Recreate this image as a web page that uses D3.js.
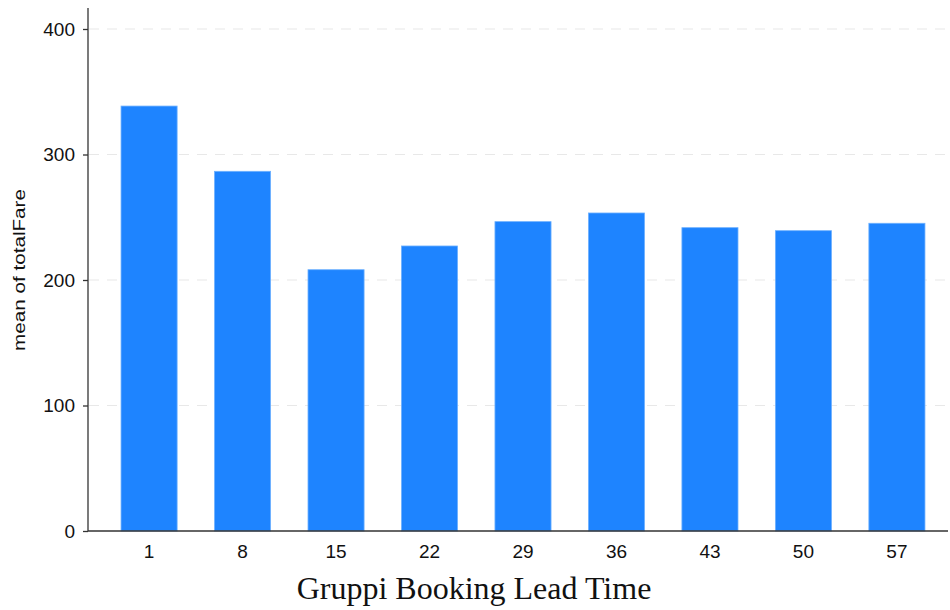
<!DOCTYPE html>
<html>
<head>
<meta charset="utf-8">
<script src="https://cdn.jsdelivr.net/npm/d3@7"></script>
<style>
  html, body { margin: 0; padding: 0; background: #fff; }
  svg { display: block; }
</style>
</head>
<body>
<svg id="chart" width="950" height="610"></svg>
<script>
const categories = ["1", "8", "15", "22", "29", "36", "43", "50", "57"];
const meanTotalFare = [338.6, 286.6, 208.2, 227.1, 246.5, 253.4, 241.7, 239.3, 245.2];
const yTicks = [0, 100, 200, 300, 400];
const xTitle = "Gruppi Booking Lead Time";
const yTitle = "mean of totalFare";

const svg = d3.select("#chart");
const plot = { left: 88, right: 948, top: 8, bottom: 531 };

const y = d3.scaleLinear().domain([0, 400]).range([531, 29]);
const x = d3.scaleBand().domain(categories).range([93, 953]).paddingInner(0.4).paddingOuter(0.3);

// gridlines
svg.append("g").selectAll("line")
  .data(yTicks.filter(d => d > 0))
  .join("line")
  .attr("x1", plot.left + 1).attr("x2", plot.right)
  .attr("y1", d => y(d)).attr("y2", d => y(d))
  .attr("stroke", "#e8e8e8").attr("stroke-width", 1.2)
  .attr("stroke-dasharray", "10,8");

// bars
svg.append("g").selectAll("rect")
  .data(categories.map((c, i) => ({ c, v: meanTotalFare[i] })))
  .join("rect")
  .attr("x", d => x(d.c))
  .attr("width", x.bandwidth())
  .attr("y", d => y(d.v))
  .attr("height", d => y(0) - y(d.v))
  .attr("fill", "#1e84ff")
  .attr("stroke", "#6eb1ff").attr("stroke-width", 0.8);

const sans = "Arial, 'Liberation Sans', sans-serif";

// y axis
const yAxis = svg.append("g")
  .attr("transform", `translate(${plot.left},0)`)
  .call(d3.axisLeft(y).tickValues(yTicks).tickSize(5).tickPadding(8).tickFormat(d3.format("d")));
yAxis.select(".domain").attr("d", `M0,${plot.top}V${plot.bottom}`).attr("stroke", "#333").attr("stroke-width", 1.3);
yAxis.selectAll(".tick line").attr("stroke", "#333").attr("stroke-width", 1.3);
yAxis.selectAll(".tick text").attr("font-family", sans).attr("font-size", 19).attr("fill", "#111");

// x axis
const xAxis = svg.append("g")
  .attr("transform", `translate(0,${plot.bottom})`)
  .call(d3.axisBottom(x).tickSize(0).tickPadding(14));
xAxis.select(".domain").attr("d", `M${plot.left},0H${plot.right}`).attr("stroke", "#333").attr("stroke-width", 1.3);
xAxis.selectAll(".tick text").attr("font-family", sans).attr("font-size", 19).attr("fill", "#111");

// titles
svg.append("text")
  .attr("x", 474).attr("y", 599)
  .attr("text-anchor", "middle")
  .attr("font-family", "'Times New Roman', 'Liberation Serif', serif")
  .attr("font-size", 32).attr("fill", "#111")
  .text(xTitle);

svg.append("text")
  .attr("transform", `translate(25,270) rotate(-90)`)
  .attr("text-anchor", "middle")
  .attr("font-family", sans)
  .attr("font-size", 17).attr("fill", "#111")
  .attr("textLength", 162).attr("lengthAdjust", "spacingAndGlyphs")
  .text(yTitle);
</script>
</body>
</html>
